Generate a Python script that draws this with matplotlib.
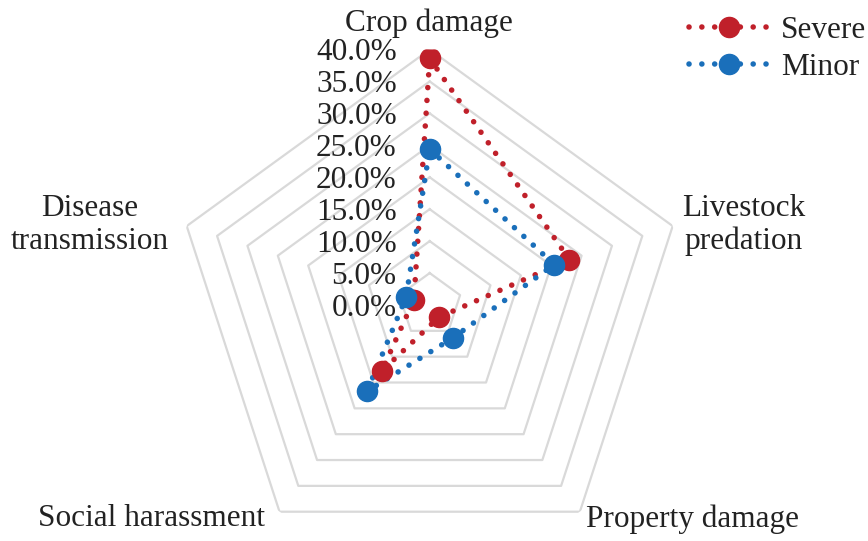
import numpy as np
import matplotlib
matplotlib.use("Agg")
import matplotlib.pyplot as plt
from matplotlib.transforms import offset_copy

plt.rcParams['font.family'] = ['Liberation Serif', 'DejaVu Serif']

# data (percent)
categories = ['Crop damage', 'Livestock\npredation', 'Property damage',
              'Social harassment', 'Disease\ntransmission']
severe = [38.6, 23.0, 2.4, 12.8, 2.6]
minor = [24.4, 20.5, 6.3, 16.7, 3.9]
levels = [0, 5, 10, 15, 20, 25, 30, 35, 40]
level_labels = ['0.0%', '5.0%', '10.0%', '15.0%', '20.0%', '25.0%', '30.0%', '35.0%', '40.0%']

red = '#C0202A'
blue = '#1A6FBA'
grid_c = '#D9D9D9'
txt_c = '#222222'
fs = 22.5

W, H = 868, 541
fig = plt.figure(figsize=(W / 100, H / 100), dpi=100)


def px(x, y):
    return x / W, 1 - y / H


# polar axes, centre ~ (429.7, 305) px, radius 255.5 px for 40 %
cx, cy, R = 429.7, 305, 255.5
ax = fig.add_axes([(cx - R) / W, (H - cy - R) / H, 2 * R / W, 2 * R / H],
                  projection='polar')
ax.set_theta_offset(np.pi / 2)
ax.set_theta_direction(-1)
ax.set_ylim(0, 40)
ax.grid(False)
ax.set_xticks([])
ax.set_yticks([])
ax.spines['polar'].set_visible(False)
ax.patch.set_alpha(0)

n = len(categories)
angles = np.arange(n) * 2 * np.pi / n
ang_c = np.append(angles, angles[0])

for lv in levels[1:]:
    ax.plot(ang_c, [lv] * (n + 1), color=grid_c, lw=1.6, zorder=1)

lw = 4.0
dot = (0, (0.01, 2.3))
for vals, c in [(severe, red), (minor, blue)]:
    v = np.append(vals, vals[0])
    ax.plot(ang_c, v, color=c, lw=lw, linestyle=dot, dash_capstyle='round',
            zorder=3)
    ax.plot(angles, vals, 'o', color=c, ms=14.5, zorder=4)

# radial tick labels along the vertical axis
tr = offset_copy(ax.transData, fig=fig, x=-33, y=-3, units='dots')
for lv, lab in zip(levels, level_labels):
    ax.text(0, lv, lab, transform=tr, ha='right', va='center',
            fontsize=fs, color=txt_c, zorder=5)

# category labels
label_pos = [(429, 23), (744, 225), (692, 519), (152, 519), (90, 225)]
for lab, (x, y) in zip(categories, label_pos):
    fig.text(*px(x, y), lab, ha='center', va='center', fontsize=fs,
             color=txt_c, linespacing=1.15)

# legend
h1 = plt.Line2D([], [], color=red, lw=lw, linestyle=dot, dash_capstyle='round',
                marker='o', ms=14.5)
h2 = plt.Line2D([], [], color=blue, lw=lw, linestyle=dot, dash_capstyle='round',
                marker='o', ms=14.5)
leg = fig.legend([h1, h2], ['Severe', 'Minor'], loc='upper right',
                 bbox_to_anchor=px(866, 16), frameon=False, fontsize=fs,
                 handlelength=2.6, handletextpad=0.35, labelspacing=0.25,
                 borderpad=0.0, borderaxespad=0.0)
for t in leg.get_texts():
    t.set_color(txt_c)

fig.savefig('out.png', dpi=100)
